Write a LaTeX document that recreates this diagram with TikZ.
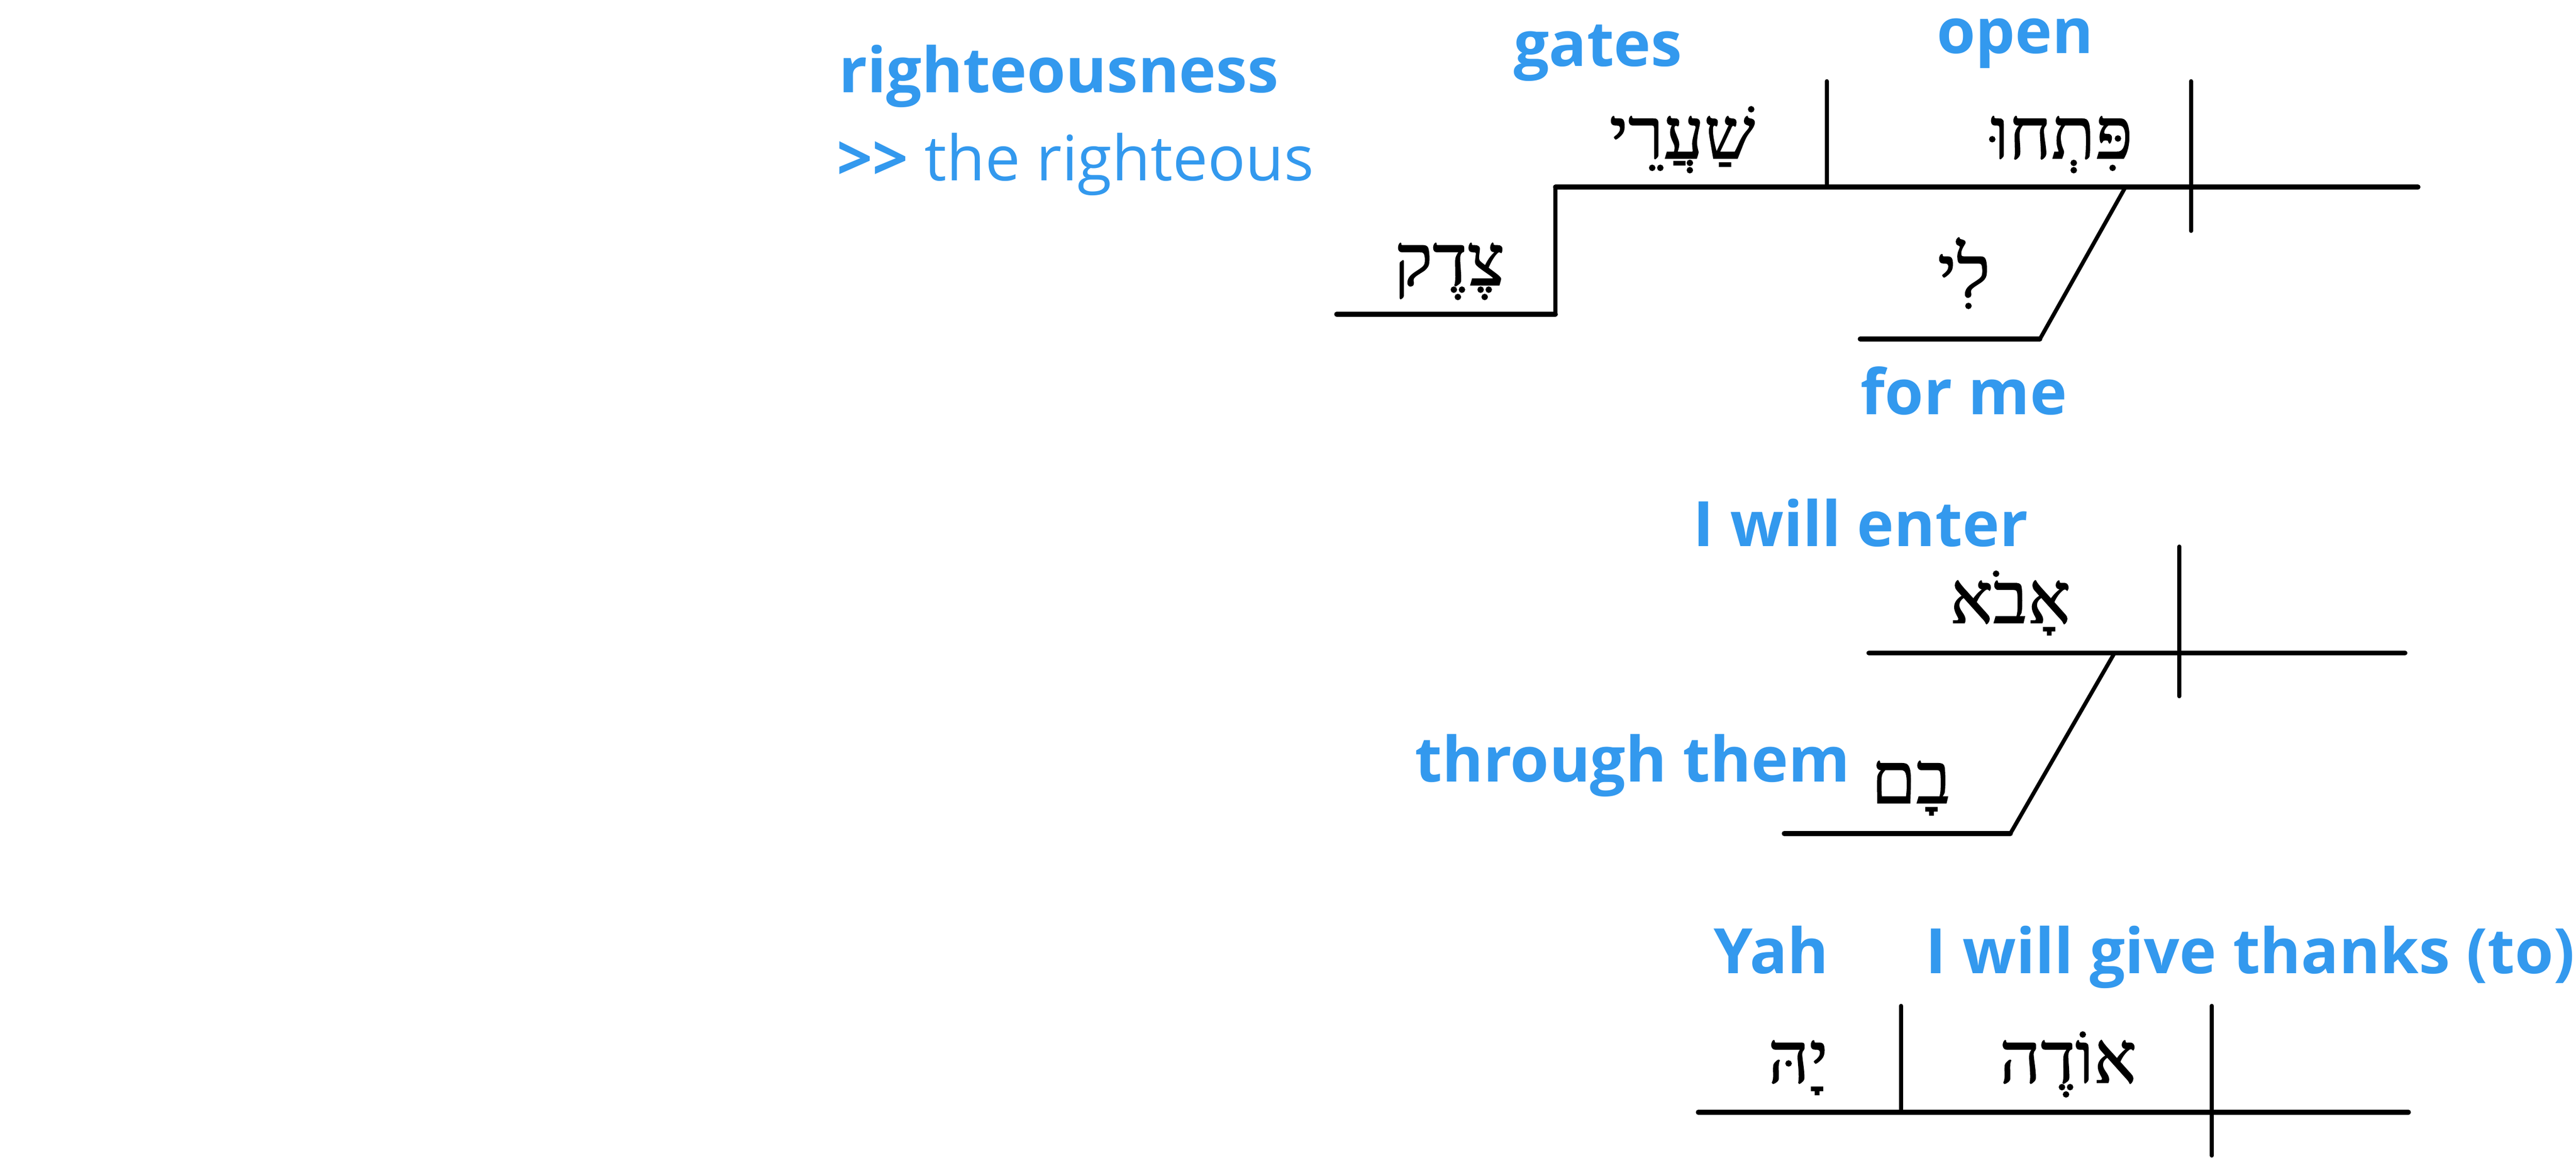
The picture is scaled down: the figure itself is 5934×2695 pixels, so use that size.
\documentclass[tikz,border=0pt]{standalone}
\usepackage{fontspec}
\setmainfont{Open Sans}
\newfontfamily\hebfont[Script=Hebrew, FakeBold=1.2]{Liberation Serif}
\TeXXeTstate=1
\definecolor{glossblue}{RGB}{51,153,238}
\tikzset{
  gloss/.style={text=glossblue, font=\fontsize{41}{48}\selectfont\bfseries, inner sep=0pt},
  heb/.style={font=\hebfont\fontsize{47}{52}\selectfont, inner sep=0pt, anchor=base},
  mainline/.style={line width=3.2pt, line cap=round},
  divider/.style={line width=2.6pt, line cap=round},
}
\begin{document}
\begin{tikzpicture}[x=0.01cm, y=-0.01cm]
        \useasboundingbox (0,0) rectangle (5934,2695);

        % Clause 1: subject, verb, modifiers
        \coordinate (s1) at (3583,431);
        \coordinate (e1) at (5570,431);
        \coordinate (d1a) at (4208,187);
        \coordinate (d1b) at (4208,431);
        \coordinate (d2a) at (5047,187);
        \coordinate (d2b) at (5047,532);
        \coordinate (st1) at (3583,724);
        \coordinate (st2) at (3079,724);
        \coordinate (sl1) at (4896,431);
        \coordinate (sl2) at (4699,781);
        \coordinate (sl3) at (4285,781);
        \draw[mainline] (s1) -- (e1);
        \draw[divider] (d1a) -- (d1b);
        \draw[divider] (d2a) -- (d2b);
        \draw[divider] (s1) -- (st1);
        \draw[mainline] (st1) -- (st2);
        \draw[divider] (sl1) -- (sl2);
        \draw[mainline] (sl2) -- (sl3);

        \node[heb] (shaarei) at (3875,365) {\beginR שַׁעֲרֵי\endR};
        \node[heb] (pitchu) at (4749,365) {\beginR פִּתְחוּ\endR};
        \node[heb] (tsedeq) at (3339,657) {\beginR צֶדֶק\endR};
        \node[heb] (li) at (4524,683) {\beginR לִי\endR};

        \node[gloss, anchor=base] (gates) at (3681,152) {gates};
        \node[gloss, anchor=base] (open) at (4642,123) {open};
        \node[gloss, anchor=base west] (righteousness) at (1932,213) {righteousness};
        \node[gloss, anchor=base west] (righteous) at (1927,416) {>{}> \mdseries the righteous};
        \node[gloss, anchor=base] (forme) at (4524,955) {for me};

        % Clause 2
        \coordinate (s2) at (4305,1504);
        \coordinate (e2) at (5540,1504);
        \coordinate (d3a) at (5020,1259);
        \coordinate (d3b) at (5020,1604);
        \coordinate (sl4) at (4871,1504);
        \coordinate (sl5) at (4631,1920);
        \coordinate (sl6) at (4110,1920);
        \draw[mainline] (s2) -- (e2);
        \draw[divider] (d3a) -- (d3b);
        \draw[divider] (sl4) -- (sl5);
        \draw[mainline] (sl5) -- (sl6);

        \node[heb] (avo) at (4631,1435) {\beginR אָבֹא\endR};
        \node[heb] (bam) at (4402,1850) {\beginR בָם\endR};
        \node[gloss, anchor=base] (enter) at (4286,1259) {I will enter};
        \node[gloss, anchor=base east] (through) at (4262,1801) {through them};

        % Clause 3
        \coordinate (s3) at (3912,2562);
        \coordinate (e3) at (5548,2562);
        \coordinate (d4a) at (4379,2317);
        \coordinate (d4b) at (4379,2562);
        \coordinate (d5a) at (5095,2317);
        \coordinate (d5b) at (5095,2662);
        \draw[mainline] (s3) -- (e3);
        \draw[divider] (d4a) -- (d4b);
        \draw[divider] (d5a) -- (d5b);

        \node[heb] (yah) at (4142,2494) {\beginR יָהּ\endR};
        \node[heb] (odeh) at (4764,2494) {\beginR אוֹדֶה\endR};
        \node[gloss, anchor=base] (yahgloss) at (4080,2242) {Yah};
        \node[gloss, anchor=base west] (thanks) at (4435,2242) {I will give thanks (to)};
\end{tikzpicture}
\end{document}
